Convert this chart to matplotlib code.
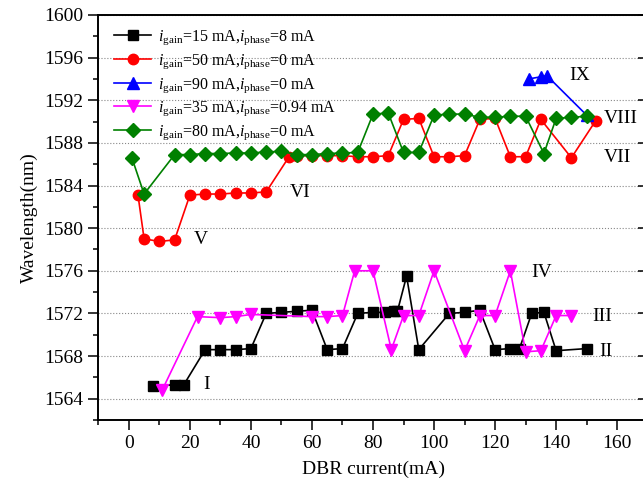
import matplotlib
matplotlib.use("Agg")
import matplotlib.pyplot as plt
from matplotlib.ticker import MultipleLocator

plt.rcParams['font.family'] = ['Liberation Serif', 'DejaVu Serif']
plt.rcParams['mathtext.fontset'] = 'custom'
plt.rcParams['mathtext.rm'] = 'Liberation Serif'
plt.rcParams['mathtext.it'] = 'Liberation Serif:italic'

# i_gain=15 mA, i_phase=8 mA
black_x = [8, 15, 18, 25, 30, 35, 40, 45, 50, 55, 60, 65, 70, 75, 80, 84, 87, 88, 91, 95,
           105, 110, 115, 120, 125, 128, 132, 136, 140, 150]
black_y = [1565.2, 1565.3, 1565.3, 1568.6, 1568.6, 1568.6, 1568.7, 1572.0, 1572.1, 1572.2,
           1572.3, 1568.6, 1568.7, 1572.0, 1572.1, 1572.1, 1572.2, 1572.2, 1575.5, 1568.6,
           1572.0, 1572.1, 1572.3, 1568.6, 1568.7, 1568.7, 1572.0, 1572.1, 1568.5, 1568.7]

# i_gain=50 mA, i_phase=0 mA
red_x = [3, 5, 10, 15, 20, 25, 30, 35, 40, 45, 52.5, 55, 60, 65, 70, 75, 80, 85, 90, 95,
         100, 105, 110, 115, 120, 125, 130, 135, 145, 153]
red_y = [1583.1, 1579.0, 1578.75, 1578.9, 1583.1, 1583.2, 1583.2, 1583.3, 1583.3, 1583.4,
         1586.7, 1586.8, 1586.8, 1586.8, 1586.8, 1586.7, 1586.7, 1586.8, 1590.2, 1590.3,
         1586.7, 1586.7, 1586.8, 1590.2, 1590.3, 1586.7, 1586.7, 1590.2, 1586.6, 1590.1]

# i_gain=90 mA, i_phase=0 mA
blue_x = [131, 135, 137, 150]
blue_y = [1594.0, 1594.2, 1594.3, 1590.6]

# i_gain=35 mA, i_phase=0.94 mA
mag_x = [11, 22.5, 30, 35, 40, 60, 65, 70, 74, 80, 86, 90, 95, 100, 110, 115, 120, 125,
         130, 135, 140, 145]
mag_y = [1564.85, 1571.7, 1571.6, 1571.7, 1571.9, 1571.7, 1571.7, 1571.8, 1576.0, 1576.0,
         1568.6, 1571.8, 1571.8, 1576.0, 1568.5, 1571.8, 1571.8, 1576.0, 1568.4, 1568.5,
         1571.8, 1571.8]

# i_gain=80 mA, i_phase=0 mA
green_x = [1, 5, 15, 20, 25, 30, 35, 40, 45, 50, 55, 60, 65, 70, 75, 80, 85, 90, 95, 100,
           105, 110, 115, 120, 125, 130, 136, 140, 145, 150]
green_y = [1586.6, 1583.2, 1586.9, 1586.9, 1587.0, 1587.0, 1587.05, 1587.05, 1587.15, 1587.2,
           1586.9, 1586.9, 1587.0, 1587.05, 1587.1, 1590.7, 1590.8, 1587.1, 1587.1, 1590.6,
           1590.7, 1590.7, 1590.4, 1590.4, 1590.5, 1590.5, 1587.0, 1590.3, 1590.4, 1590.5]

labels = [r"$\mathit{i}_{\mathrm{gain}}$=15 mA,$\mathit{i}_{\mathrm{phase}}$=8 mA",
          r"$\mathit{i}_{\mathrm{gain}}$=50 mA,$\mathit{i}_{\mathrm{phase}}$=0 mA",
          r"$\mathit{i}_{\mathrm{gain}}$=90 mA,$\mathit{i}_{\mathrm{phase}}$=0 mA",
          r"$\mathit{i}_{\mathrm{gain}}$=35 mA,$\mathit{i}_{\mathrm{phase}}$=0.94 mA",
          r"$\mathit{i}_{\mathrm{gain}}$=80 mA,$\mathit{i}_{\mathrm{phase}}$=0 mA"]

roman = ["I", "II", "III", "IV", "V", "VI", "VII", "VIII", "IX"]
roman_x = [25.4, 156.4, 155.2, 135.1, 23.7, 56.2, 160.2, 161.3, 147.6]
roman_y = [1565.35, 1568.45, 1571.75, 1575.8, 1578.9, 1583.3, 1586.65, 1590.3, 1594.35]

fig = plt.figure(figsize=(6.43, 4.93), dpi=100)
ax = fig.add_axes([0.1529, 0.1481, 0.8544, 0.8215])

lw = 1.2
ax.plot(black_x, black_y, color='black', marker='s', ms=7, lw=lw, label=labels[0], zorder=3)
ax.plot(red_x, red_y, color='red', marker='o', ms=7.5, lw=lw, label=labels[1], zorder=4)
ax.plot(blue_x, blue_y, color='blue', marker='^', ms=8, lw=lw, label=labels[2], zorder=5)
ax.plot(mag_x, mag_y, color='magenta', marker='v', ms=8, lw=lw, label=labels[3], zorder=3.5)
ax.plot(green_x, green_y, color='green', marker='D', ms=7, lw=lw, label=labels[4], zorder=6)

for t, x, y in zip(roman, roman_x, roman_y):
    ax.text(x, y, t, ha='center', va='center', fontsize=14)

ax.set_xlim(-10, 170)
ax.set_ylim(1562, 1600)
ax.xaxis.set_major_locator(MultipleLocator(20))
ax.xaxis.set_minor_locator(MultipleLocator(10))
ax.yaxis.set_major_locator(MultipleLocator(4))
ax.yaxis.set_minor_locator(MultipleLocator(2))
ax.set_xticks(range(0, 161, 20))

ax.grid(axis='y', which='major', linestyle=':', color='#888888', lw=0.8)
ax.tick_params(which='major', direction='out', length=7, width=1.1, labelsize=14, pad=4)
ax.tick_params(which='minor', direction='out', length=3.6, width=1.1)
ax.tick_params(axis='y', which='both', right=True)
ax.yaxis.set_tick_params(which='both', labelright=False)
for s in ax.spines.values():
    s.set_linewidth(1.4)

# right-side ticks point inward
for t in ax.yaxis.get_major_ticks() + ax.yaxis.get_minor_ticks():
    t.tick2line.set_marker(matplotlib.lines.TICKLEFT)

ax.set_xlabel("DBR current(mA)", fontsize=14, labelpad=6)
ax.set_ylabel("Wavelength(nm)", fontsize=14, labelpad=4)

ax.legend(loc='upper left', bbox_to_anchor=(0.009, 0.994), frameon=False, fontsize=11.5,
          handlelength=2.3, borderaxespad=0.3, labelspacing=0.32, handletextpad=0.4)

fig.savefig("out.png", dpi=100)
